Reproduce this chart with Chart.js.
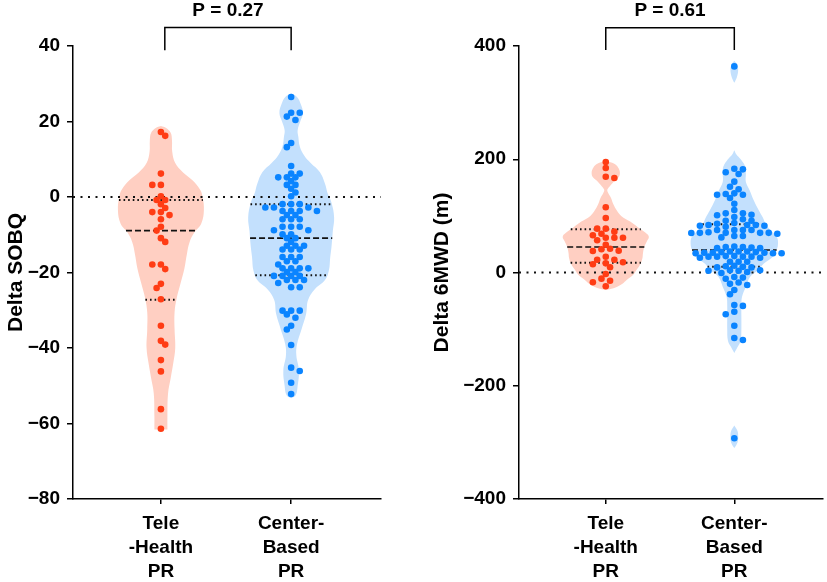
<!DOCTYPE html>
<html>
<head>
<meta charset="utf-8">
<script src="https://cdn.jsdelivr.net/npm/chart.js@4.4.1/dist/chart.umd.min.js"></script>
<style>
  html, body { margin: 0; padding: 0; background: #fff; }
  #wrap { display: flex; width: 827px; height: 582px; }
  canvas { display: block; }
</style>
</head>
<body>
<div id="wrap">
  <canvas id="sobq" width="413" height="582"></canvas>
  <canvas id="walk" width="414" height="582"></canvas>
</div>
<script>
// ---- data ----
const groupLabels = [['Tele', '-Health', 'PR'], ['Center-', 'Based', 'PR']];

// Delta SOBQ
const teleSobq = [17.2, 16.2, 6.2, 3.2, 3.2, 0.2, -0.8, -0.8, -1.9, -2.9, -4.0, -4.0, -4.8, -5.9, -7.9, -8.9,
  -10.9, -11.9, -17.9, -17.9, -19.1, -23.0, -24.1, -27.1, -34.1, -38.1, -39.1, -43.2, -46.2, -56.2, -61.4];
const centerSobq = [26.5, 22.3, 22.3, 21.3, 20.4, 14.3, 13.2, 8.2, 6.2, 6.2, 5.2, 5.2, 5.2, 4.2, 3.2, 3.2, 2.2,
  1.2, 0.2, -1.9, -1.9, -1.9, -2.8, -2.8, -2.8, -3.7, -3.7, -3.7, -3.7, -4.8, -4.8, -5.9, -5.9, -5.9, -7.9, -7.9,
  -7.9, -8.8, -8.8, -9.9, -9.9, -10.9, -10.9, -11.9, -12.9, -12.9, -12.9, -13.9, -13.9, -13.9, -15.9, -15.9,
  -15.9, -17.0, -17.0, -17.9, -18.9, -18.9, -18.9, -18.9, -19.9, -19.9, -20.9, -20.9, -20.9, -20.9, -22.0,
  -22.0, -22.0, -22.8, -23.9, -23.9, -30.1, -30.1, -30.1, -31.1, -32.0, -34.1, -35.1, -39.2, -45.2, -46.1,
  -49.2, -52.2];
const teleSobqQuart = [-27.2, -8.9, -0.8];     // Q1, median, Q3
const centerSobqQuart = [-20.7, -10.9, -1.9];

// violin outlines: level and half width (share of group spacing)
const teleSobqViolinV = [-61.6, -58, -52, -48, -44, -40, -35, -30.5, -27, -23, -19, -15, -12, -9.5, -7, -3.5,
  0, 2, 4.5, 6.5, 9, 12, 15, 17, 18.3, 18.8];
const teleSobqViolinW = [0.05, 0.05, 0.055, 0.075, 0.095, 0.11, 0.105, 0.105, 0.12, 0.15, 0.18, 0.2, 0.22,
  0.255, 0.31, 0.33, 0.32, 0.3, 0.24, 0.17, 0.11, 0.087, 0.085, 0.075, 0.04, 0];
const centerSobqViolinV = [-53.3, -52.5, -50, -46, -42, -39, -35, -31, -27.3, -24.5, -22, -19.4, -16, -13.2,
  -9, -5.4, -1.5, 1, 3.5, 6.6, 9, 11, 13.3, 16, 17.7, 20, 22.2, 24.5, 26.5, 27.4];
const centerSobqViolinW = [0, 0.035, 0.05, 0.06, 0.04, 0.045, 0.08, 0.115, 0.13, 0.18, 0.26, 0.29, 0.3, 0.31,
  0.32, 0.33, 0.31, 0.28, 0.26, 0.22, 0.15, 0.1, 0.067, 0.055, 0.05, 0.07, 0.09, 0.075, 0.045, 0];

// Delta 6MWD (m)
const teleWalk = [195.1, 184.5, 169.2, 166.9, 115.1, 96.2, 77.4, 77.4, 72.1, 68.5, 65.7, 61.5, 61.5, 61.5,
  56.9, 49.1, 42.0, 41.0, 38.5, 38.0, 27.9, 22.6, 22.6, 18.0, 16.2, 14.5, 9.2, -2.6, -10.9, -14.5, -17.3, -24.4];
const centerWalk = [364, 183.3, 182.2, 177, 174, 160.4, 151.5, 146.9, 139.8, 138.6, 137.4, 137.4, 131.6, 121.5,
  110.4, 104.5, 104.5, 102, 101, 98, 94, 91.5, 91.5, 87.4, 86.2, 84, 82.6, 84, 82.6, 84, 80.9, 75, 75, 75, 75,
  69.8, 70, 70, 70, 70, 68.4, 71, 64.5, 64.5, 62, 46, 44, 45, 43, 43, 45, 36, 37, 34, 35, 36, 35, 35, 34, 37, 34,
  37, 29, 28, 26, 28, 28, 28, 26, 29, 19, 19, 19, 10, 11, 12, 9, 9, 1, 3, 4, 3, -1, 4, -8, -9, -11, -17.7, -20,
  -22, -31, -38.5, -57.4, -59, -69.2, -73.8, -94, -115.7, -119.2, -292.8];
const teleWalkQuart = [17.3, 45, 76.3];
const centerWalkQuart = [10, 39.7, 85];

const teleWalkViolinV = [-31, -28, -24, -18, -13, -5, 5, 15, 25, 35, 45, 55, 63, 70, 80, 90, 100, 110, 120, 132,
  140, 146, 152, 160, 168, 176, 184, 190, 194, 197];
const teleWalkViolinW = [0, 0.06, 0.1, 0.14, 0.165, 0.21, 0.24, 0.27, 0.285, 0.29, 0.3, 0.32, 0.335, 0.31, 0.25,
  0.19, 0.12, 0.085, 0.06, 0.04, 0.02, 0.012, 0.03, 0.06, 0.1, 0.11, 0.1, 0.08, 0.05, 0];
const centerWalkViolinV = [-310, -300, -290, -280, -270, null, -142, -130, -120, -100, -80, -60, -43, -25, -7, 5,
  16, 28, 40, 52, 63, 75, 88, 98, 110, 128, 145, 160, 175, 187, 200, 209, 216, null, 335, 345, 358, 368, 374];
const centerWalkViolinW = [0, 0.025, 0.03, 0.025, 0, null, 0, 0.03, 0.05, 0.055, 0.055, 0.055, 0.06, 0.09, 0.125,
  0.19, 0.23, 0.3, 0.33, 0.34, 0.33, 0.28, 0.24, 0.22, 0.19, 0.15, 0.12, 0.09, 0.09, 0.085, 0.05, 0.015, 0, null,
  0, 0.02, 0.03, 0.02, 0];

// ---- styling ----
const RED = '#ff3c14', RED_FILL = '#ffcfc2';
const BLUE = '#0a84ff', BLUE_FILL = '#c3e0fd';
const DOT_R = 3.3, SWARM_STEP = 4.3, SWARM_GAP = 5.7;
const xRange = [0.325, 2.69];

Chart.defaults.font.family = '"Liberation Sans", Arial, Helvetica, sans-serif';
Chart.defaults.font.weight = 'bold';
Chart.defaults.font.size = 19;
Chart.defaults.color = '#000';
Chart.defaults.animation = false;

function violinPoints(center, levels, widths) {
  const pts = [];
  let piece = [];
  const flush = () => {
    if (!piece.length) return;
    piece.forEach(p => pts.push({x: center + p[1], y: p[0]}));
    piece.slice().reverse().forEach(p => pts.push({x: center - p[1], y: p[0]}));
    pts.push({x: null, y: null});
    piece = [];
  };
  levels.forEach((v, i) => {
    if (v === null) flush();
    else piece.push([v, widths[i]]);
  });
  flush();
  return pts;
}

function widthAt(levels, widths, v) {
  for (let i = 0; i < levels.length - 1; i++) {
    const a = levels[i], b = levels[i + 1];
    if (a === null || b === null) continue;
    if (v >= a && v <= b) return widths[i] + (widths[i + 1] - widths[i]) * (v - a) / (b - a);
  }
  return 0;
}

// beeswarm in pixel space so dots don't overlap
function swarm(values, center, chart) {
  const ys = chart.scales.y, xs = chart.scales.x;
  const pxPerX = xs.getPixelForValue(1) - xs.getPixelForValue(0);
  const order = values.map((v, i) => i).sort((a, b) => values[b] - values[a]);
  const placed = [];
  const out = new Array(values.length);
  let side = 1;
  order.forEach(i => {
    const py = ys.getPixelForValue(values[i]);
    let best = null;
    for (let k = 0; k < 40 && best === null; k++) {
      const cands = k === 0 ? [0] : [side * k * SWARM_STEP, -side * k * SWARM_STEP];
      for (const dx of cands) {
        if (placed.every(p => Math.hypot(p.dx - dx, p.py - py) >= SWARM_GAP)) { best = dx; break; }
      }
    }
    if (best > 0) side = -1;
    else if (best < 0) side = 1;
    placed.push({dx: best, py: py});
    out[i] = {x: center + best / pxPerX, y: values[i]};
  });
  return out;
}

const pLabel = {
  id: 'pLabel',
  afterDatasetsDraw(chart, args, opts) {
    const ctx = chart.ctx;
    const x = (chart.scales.x.getPixelForValue(opts.x[0]) + chart.scales.x.getPixelForValue(opts.x[1])) / 2;
    const y = chart.scales.y.getPixelForValue(opts.y[1]) - 17;
    ctx.save();
    ctx.font = 'bold 19px "Liberation Sans", Arial, sans-serif';
    ctx.fillStyle = '#000';
    ctx.textAlign = 'center';
    ctx.textBaseline = 'middle';
    ctx.fillText(opts.text, x, y);
    ctx.restore();
  }
};

function makePanel(p) {
  const datasets = [];
  p.groups.forEach((g, gi) => {
    const c = gi + 1;
    datasets.push({
      type: 'scatter', data: g.values.map(v => ({x: c, y: v})),
      backgroundColor: g.dot, borderWidth: 0, pointRadius: DOT_R, order: 0, swarm: g.values, center: c
    });
    g.quart.forEach((q, qi) => {
      const w = widthAt(g.violinV, g.violinW, q);
      datasets.push({
        type: 'line', data: [{x: c - w, y: q}, {x: c + w, y: q}],
        borderColor: '#111', borderWidth: qi === 1 ? 1.6 : 2,
        borderDash: qi === 1 ? [6, 3] : [1.6, 3], pointRadius: 0, order: 2
      });
    });
    datasets.push({
      type: 'line', data: violinPoints(c, g.violinV, g.violinW),
      showLine: true, fill: 'shape', backgroundColor: g.fill, borderWidth: 0,
      pointRadius: 0, tension: 0.4, spanGaps: false, order: 3
    });
  });
  // zero reference line
  datasets.push({
    type: 'line', data: [{x: xRange[0], y: 0}, {x: xRange[1], y: 0}],
    borderColor: '#111', borderWidth: 2, borderDash: [2, 5.5], pointRadius: 0, order: 1
  });
  // significance bracket
  datasets.push({
    type: 'line',
    data: [{x: p.bracketX[0], y: p.bracketY[0]}, {x: p.bracketX[0], y: p.bracketY[1]},
           {x: p.bracketX[1], y: p.bracketY[1]}, {x: p.bracketX[1], y: p.bracketY[0]}],
    borderColor: '#000', borderWidth: 1.5, pointRadius: 0, clip: false, order: 1
  });

  const chart = new Chart(document.getElementById(p.canvas), {
    type: 'scatter',
    data: {datasets: datasets},
    options: {
      responsive: false,
      devicePixelRatio: 1,
      events: [],
      layout: {padding: {top: 46, right: p.padRight, bottom: 0, left: 0}},
      plugins: {
        legend: {display: false},
        tooltip: {enabled: false},
        pLabel: {text: p.pText, x: p.bracketX, y: p.bracketY}
      },
      scales: {
        x: {
          type: 'linear', min: xRange[0], max: xRange[1],
          afterBuildTicks: s => { s.ticks = [{value: 1}, {value: 2}]; },
          afterFit: s => { s.height = 83; },
          ticks: {
            autoSkip: false, maxRotation: 0, padding: 8,
            font: {size: 19, weight: 'bold', lineHeight: 1.26},
            callback: v => groupLabels[Math.round(v) - 1]
          },
          grid: {drawOnChartArea: false, drawTicks: true, tickLength: 5, color: '#000', lineWidth: 1.5},
          border: {display: true, color: '#000', width: 1.5}
        },
        y: {
          min: p.yMin, max: p.yMax,
          afterFit: s => { s.width = p.yWidth; },
          ticks: {
            stepSize: p.yStep, padding: 7, font: {size: 19, weight: 'bold'},
            callback: v => String(v).replace('-', '\u2212')
          },
          grid: {drawOnChartArea: false, drawTicks: true, tickLength: 6, color: '#000', lineWidth: 1.5},
          border: {display: true, color: '#000', width: 1.5},
          title: {display: true, text: p.yTitle, font: {size: 21, weight: 'bold'}, padding: {top: p.titlePad, bottom: 0}}
        }
      }
    },
    plugins: [pLabel]
  });

  chart.data.datasets.forEach(ds => {
    if (ds.swarm) ds.data = swarm(ds.swarm, ds.center, chart);
  });
  chart.update('none');
  return chart;
}

makePanel({
  canvas: 'sobq', yMin: -80, yMax: 40, yStep: 20, yTitle: 'Delta SOBQ', titlePad: 4, yWidth: 73, padRight: 32,
  bracketX: [1.03, 2], bracketY: [38.9, 44.9], pText: 'P = 0.27',
  groups: [
    {values: teleSobq, quart: teleSobqQuart, violinV: teleSobqViolinV, violinW: teleSobqViolinW, dot: RED, fill: RED_FILL},
    {values: centerSobq, quart: centerSobqQuart, violinV: centerSobqViolinV, violinW: centerSobqViolinW, dot: BLUE, fill: BLUE_FILL}
  ]
});

makePanel({
  canvas: 'walk', yMin: -400, yMax: 400, yStep: 200, yTitle: 'Delta 6MWD (m)', titlePad: 17, yWidth: 106, padRight: 0,
  bracketX: [1, 2], bracketY: [392.9, 432.3], pText: 'P = 0.61',
  groups: [
    {values: teleWalk, quart: teleWalkQuart, violinV: teleWalkViolinV, violinW: teleWalkViolinW, dot: RED, fill: RED_FILL},
    {values: centerWalk, quart: centerWalkQuart, violinV: centerWalkViolinV, violinW: centerWalkViolinW, dot: BLUE, fill: BLUE_FILL}
  ]
});
</script>
</body>
</html>
